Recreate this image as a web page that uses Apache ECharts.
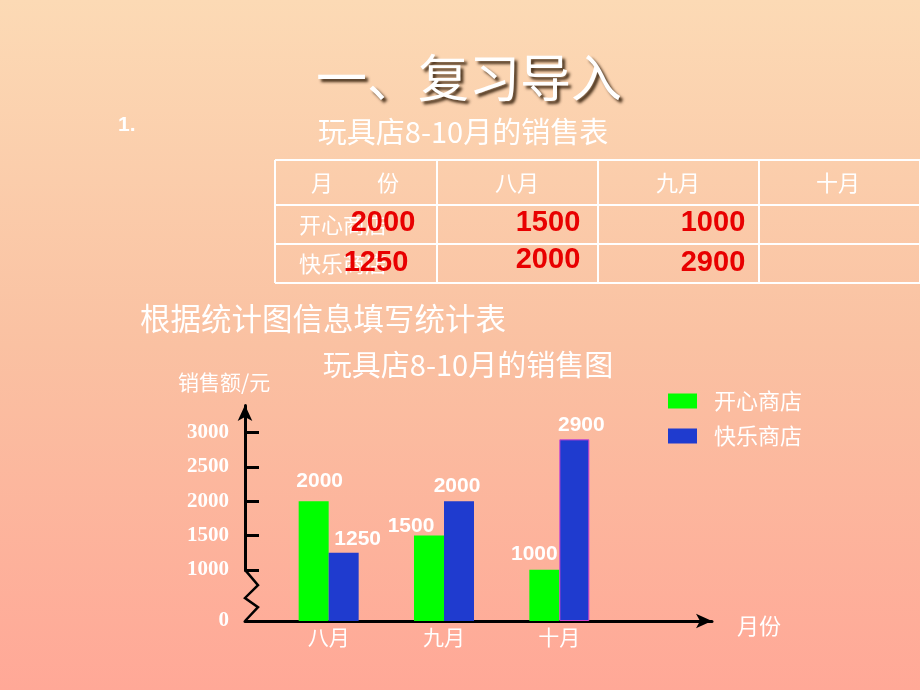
<!DOCTYPE html>
<html>
<head>
<meta charset="utf-8">
<script src="https://cdn.jsdelivr.net/npm/echarts@6/dist/echarts.min.js"></script>
<style>
html,body{margin:0;padding:0;}
#c{width:920px;height:690px;}
</style>
</head>
<body>
<div id="c"></div>
<script>
// ---- data ----
const months = ['八月', '九月', '十月'];
const happyShop = [2000, 1500, 1000];   // 开心商店
const joyShop = [1250, 2000, 2900];     // 快乐商店
const seriesNames = ['开心商店', '快乐商店'];
const yTickValues = [1000, 1500, 2000, 2500, 3000];
const yLabelValues = [0, 1000, 1500, 2000, 2500, 3000];
const tableHeader = ['月\u3000\u3000份', '八月', '九月', '十月'];
const tableRowLabels = ['开心商店', '快乐商店'];
const tableRow1 = ['2000', '1500', '1000'];
const tableRow2 = ['1250', '2000', '2900'];

// ---- style config (label nudges, not data) ----
const happyLabelOffset = [[6, 0], [-18, 10], [-10, 4]];
const joyLabelOffset = [[14, 6], [-2, 5], [7, 5]];

const FONT = '"Noto Sans CJK SC", "Noto Sans", sans-serif';
const chart = echarts.init(document.getElementById('c'));

const yBase = {
  type: 'value', min: 0, max: 3400,
  breaks: [{ start: 0, end: 1000, gap: 745 }],
  breakArea: { show: false },
  splitLine: { show: false }
};

// table graphics
const tblX = [275, 437, 598, 759, 920];
const tblY = [160, 205, 244, 283];
const graphics = [];
tblY.forEach(y => graphics.push({ type: 'line', shape: { x1: 275, y1: y, x2: 920, y2: y }, style: { stroke: '#fff', lineWidth: 2 }, silent: true }));
tblX.forEach(x => graphics.push({ type: 'line', shape: { x1: x, y1: 160, x2: x, y2: 283 }, style: { stroke: '#fff', lineWidth: 2 }, silent: true }));
const colCenters = [355, 517, 678, 838];
tableHeader.forEach((t, i) => graphics.push({ type: 'text', x: colCenters[i], y: 183, style: { text: t, fill: '#fff', font: '22px ' + FONT, align: 'center', verticalAlign: 'middle' } }));
tableRowLabels.forEach((t, i) => graphics.push({ type: 'text', x: 299, y: [225, 264][i], style: { text: t, fill: '#fff', font: '22px ' + FONT, align: 'left', verticalAlign: 'middle' } }));
const redX = [383, 548, 713];
tableRow1.forEach((t, i) => graphics.push({ type: 'text', x: redX[i], y: 223, style: { text: t, fill: '#e80000', font: 'bold 29px Arial, "Liberation Sans", sans-serif', align: 'center', verticalAlign: 'middle' } }));
const r2y = [263, 260, 263];
tableRow2.forEach((t, i) => graphics.push({ type: 'text', x: redX[i] - (i === 0 ? 7 : 0), y: r2y[i], style: { text: t, fill: '#e80000', font: 'bold 29px Arial, "Liberation Sans", sans-serif', align: 'center', verticalAlign: 'middle' } }));

// titles
graphics.push({ type: 'text', x: 469, y: 78, style: { text: '一、复习导入', fill: '#fff', font: '51px ' + FONT, align: 'center', verticalAlign: 'middle',
  textShadowColor: 'rgba(40,20,0,0.85)', textShadowOffsetX: 3, textShadowOffsetY: 3, textShadowBlur: 3,
  shadowColor: 'rgba(40,20,0,0.85)', shadowOffsetX: 3, shadowOffsetY: 3, shadowBlur: 3 } });
graphics.push({ type: 'text', x: 118, y: 125, style: { text: '1.', fill: '#fff', font: 'bold 21px Arial, "Liberation Sans", sans-serif', align: 'left', verticalAlign: 'middle' } });
graphics.push({ type: 'text', x: 463, y: 132, style: { text: '玩具店8-10月的销售表', fill: '#fff', font: '29px ' + FONT, align: 'center', verticalAlign: 'middle' } });
graphics.push({ type: 'text', x: 140, y: 318, style: { text: '根据统计图信息填写统计表', fill: '#fff', font: '30.5px ' + FONT, align: 'left', verticalAlign: 'middle' } });
graphics.push({ type: 'text', x: 468, y: 365, style: { text: '玩具店8-10月的销售图', fill: '#fff', font: '29px ' + FONT, align: 'center', verticalAlign: 'middle' } });
graphics.push({ type: 'text', x: 178, y: 382, style: { text: '销售额/元', fill: '#fff', font: '21px ' + FONT, align: 'left', verticalAlign: 'middle' } });
graphics.push({ type: 'text', x: 737, y: 626, style: { text: '月份', fill: '#fff', font: '22px ' + FONT, align: 'left', verticalAlign: 'middle' } });

const labelBase = { show: true, position: 'top', distance: 9, color: '#fff', fontSize: 21, fontWeight: 'bold', fontFamily: 'Arial, "Liberation Sans", sans-serif' };

const option = {
  backgroundColor: {
    type: 'linear', x: 0, y: 0, x2: 0, y2: 1,
    colorStops: [{ offset: 0, color: '#fcdab5' }, { offset: 0.5, color: '#fac1a2' }, { offset: 1, color: '#ffa897' }]
  },
  animation: false,
  grid: [
    { left: 245, right: 208, top: 405, bottom: 69 },
    { left: 271, width: 346, top: 405, bottom: 69 }
  ],
  legend: {
    left: 668, top: 390, orient: 'vertical', icon: 'rect', padding: 0,
    itemWidth: 29, itemHeight: 15, itemGap: 13,
    textStyle: { color: '#fff', fontSize: 22, fontFamily: FONT, padding: [0, 0, 0, 12] },
    data: seriesNames
  },
  xAxis: [
    { type: 'value', gridIndex: 0, min: 0, max: 1,
      axisLine: { show: true, symbol: ['none', 'arrow'], symbolSize: [11, 16], lineStyle: { color: '#000', width: 3 } },
      axisTick: { show: false }, axisLabel: { show: false }, splitLine: { show: false } },
    { type: 'category', gridIndex: 1, data: months,
      axisLine: { show: false }, axisTick: { show: false },
      axisLabel: { color: '#fff', fontSize: 21, fontFamily: FONT, margin: 6 } }
  ],
  yAxis: [
    Object.assign({}, yBase, { gridIndex: 0,
      axisLine: { show: true, symbol: ['none', 'arrow'], symbolSize: [11, 16], lineStyle: { color: '#000', width: 3 } },
      axisTick: { show: true, inside: true, length: 14, lineStyle: { color: '#000', width: 3 }, customValues: yTickValues },
      axisLabel: { show: true, color: '#fff', fontSize: 21, fontWeight: 'bold', fontFamily: '"Liberation Serif", "DejaVu Serif", serif', margin: 16,
        customValues: yLabelValues, formatter: v => String(v) }
    }),
    Object.assign({}, yBase, { gridIndex: 1, show: false })
  ],
  series: [
    { name: seriesNames[0], type: 'bar', xAxisIndex: 1, yAxisIndex: 1,
      data: happyShop.map((v, i) => ({ value: v, label: { offset: happyLabelOffset[i] } })),
      barWidth: 30, barGap: '0%', itemStyle: { color: '#00ff00' }, label: labelBase },
    { name: seriesNames[1], type: 'bar', xAxisIndex: 1, yAxisIndex: 1,
      data: joyShop.map((v, i) => ({ value: v, label: { offset: joyLabelOffset[i] },
        itemStyle: i === 2 ? { borderColor: '#d040d0', borderWidth: 1 } : undefined })),
      barWidth: 30, barGap: '0%', itemStyle: { color: '#1f3bcf' }, label: labelBase }
  ],
  graphic: graphics
};
chart.setOption(option);

// zigzag break mark on the y axis, positioned from the axis scale
const axX = chart.convertToPixel({ xAxisIndex: 0 }, 0);
const pTop = chart.convertToPixel({ yAxisIndex: 0 }, 1000);
const pBot = chart.convertToPixel({ yAxisIndex: 0 }, 0);
const d = pBot - pTop;
graphics.push({ type: 'polyline', z: 10, silent: true,
  shape: { points: [[axX, pTop], [axX + 13, pTop + 0.3 * d], [axX, pTop + 0.55 * d], [axX + 13, pTop + 0.73 * d], [axX, pBot]] },
  style: { stroke: '#000', lineWidth: 2.5, fill: null } });
chart.setOption({ graphic: graphics }, { replaceMerge: ['graphic'] });
</script>
</body>
</html>
